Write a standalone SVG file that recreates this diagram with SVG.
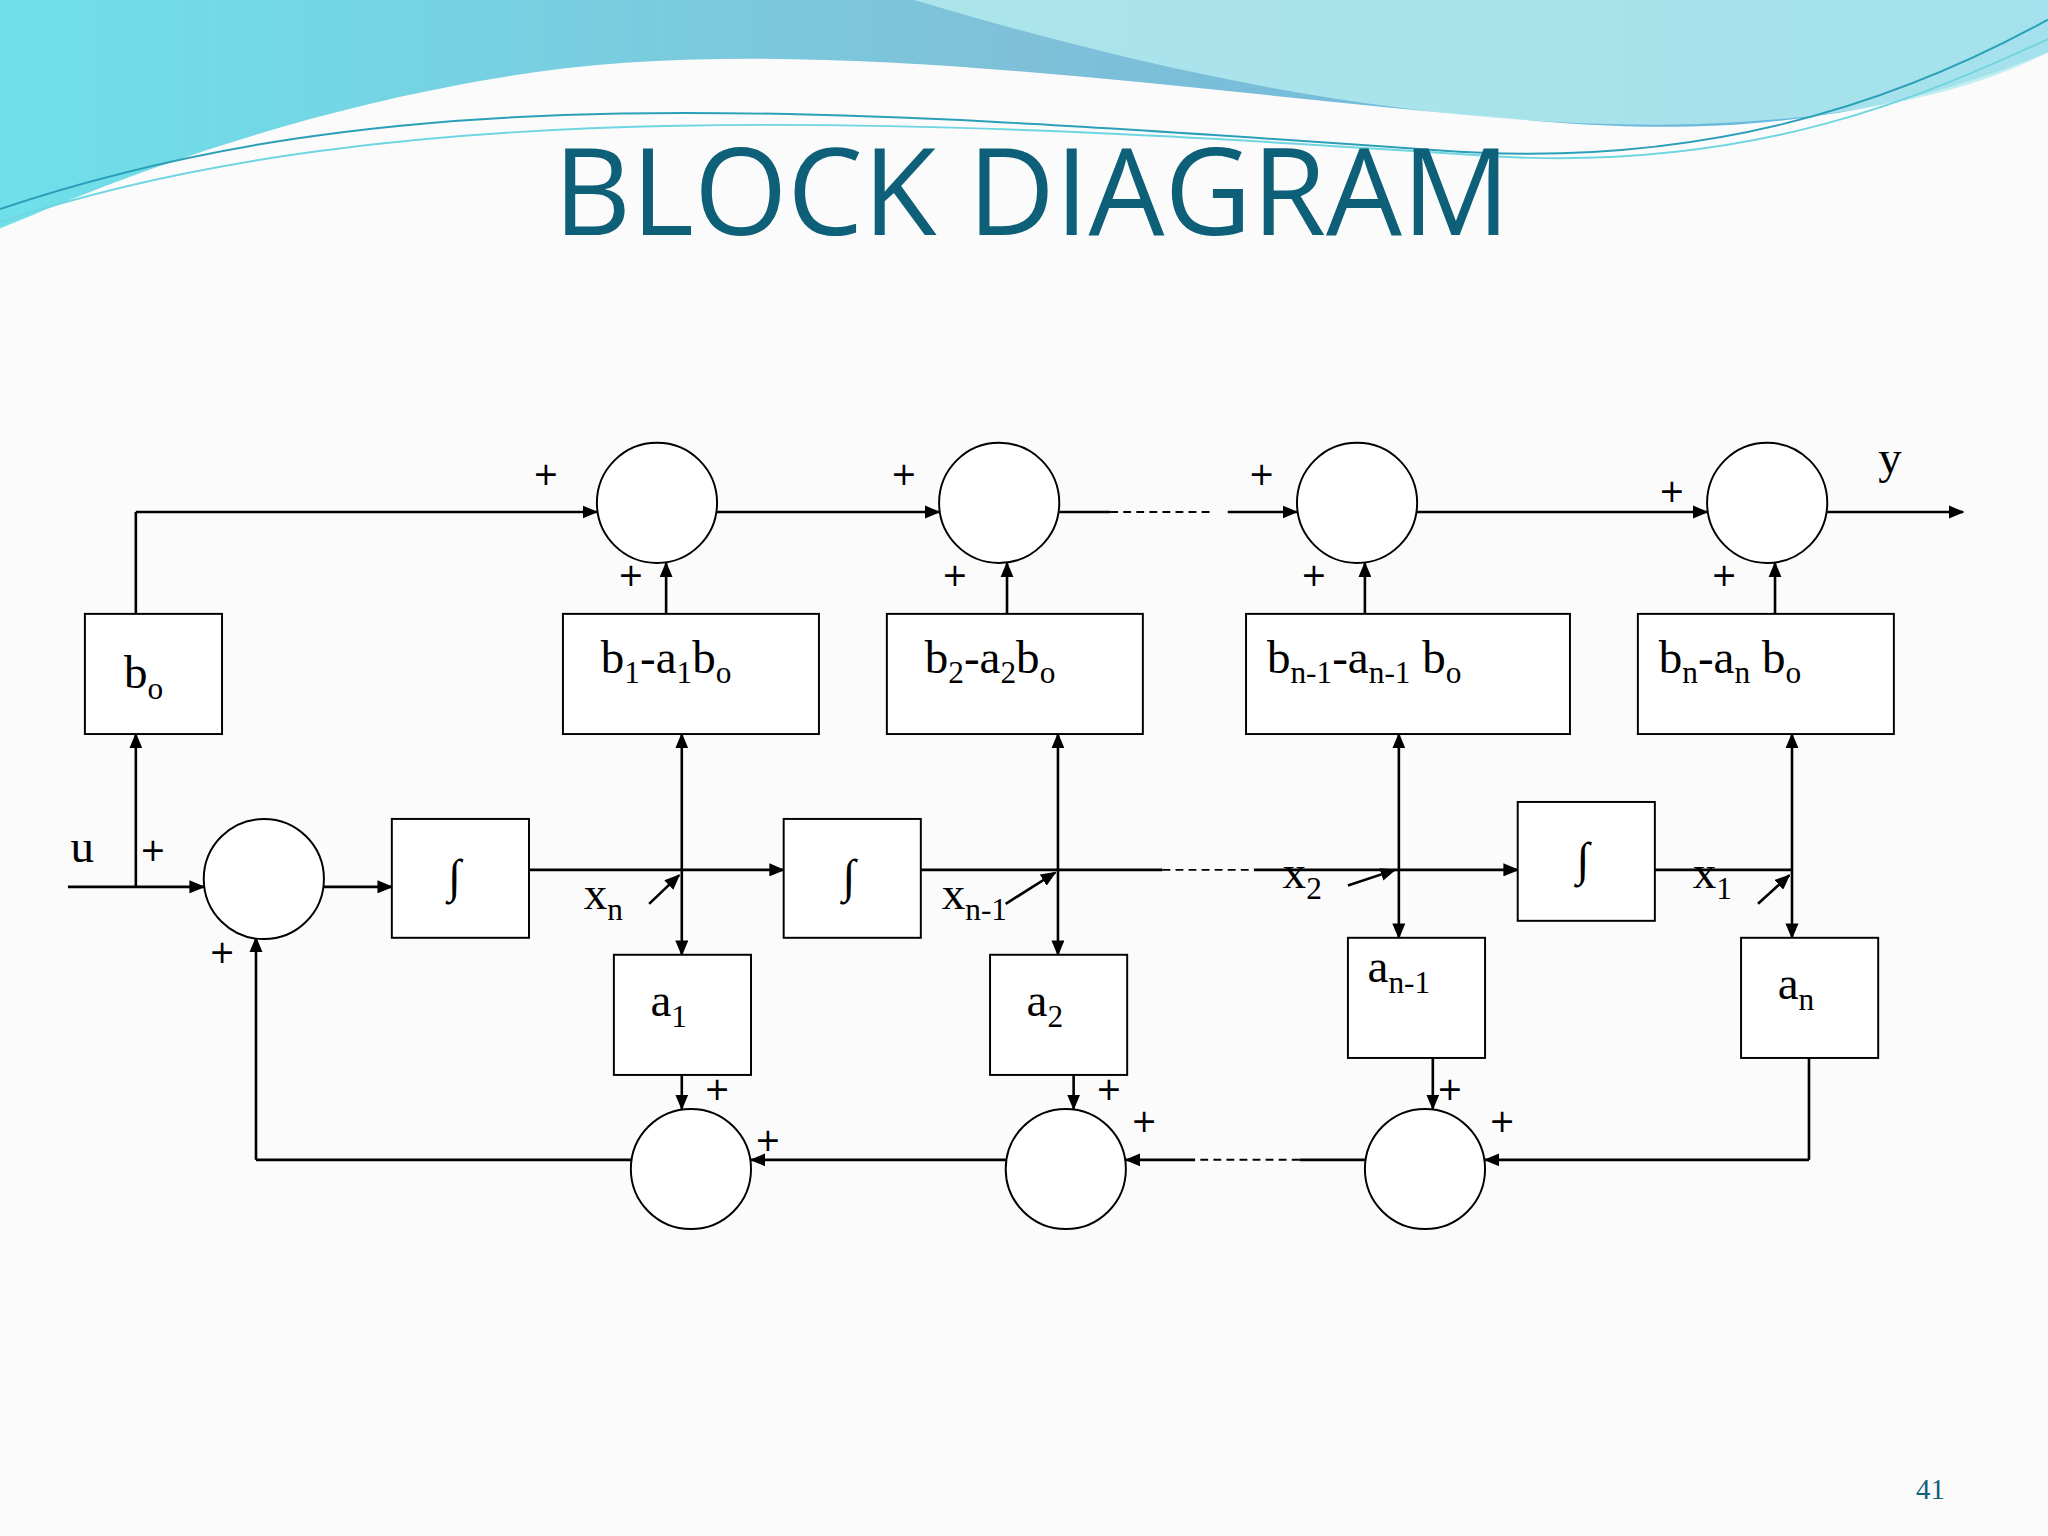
<svg xmlns="http://www.w3.org/2000/svg" width="2048" height="1536" viewBox="0 0 2048 1536">
<defs>
<style>
.l{stroke:#000;stroke-width:2;fill:none}
.a{stroke:#000;stroke-width:2;fill:none;marker-end:url(#ah)}
.d{stroke:#000;stroke-width:2;fill:none;marker-end:url(#ah);marker-start:url(#as)}
.s{stroke:#000;stroke-width:1.5;stroke-dasharray:6,4;fill:none}
.b{stroke:#000;stroke-width:1.5;fill:#fff}
.t{font-family:"Liberation Serif",serif;font-size:36px;fill:#000}
.p{font-family:"DejaVu Sans",sans-serif;font-size:24px;fill:#000}
.sub{font-size:24px}
</style>
<marker id="ah" markerWidth="12" markerHeight="10" refX="11" refY="5" orient="auto" markerUnits="userSpaceOnUse"><path d="M0,0 L12,5 L0,10 z" fill="#000"/></marker>
<marker id="as" markerWidth="12" markerHeight="10" refX="1" refY="5" orient="auto" markerUnits="userSpaceOnUse"><path d="M12,0 L0,5 L12,10 z" fill="#000"/></marker>
<linearGradient id="g1" x1="0" y1="0" x2="1" y2="0"><stop offset="0" stop-color="#6fe0ea"/><stop offset="0.5" stop-color="#7fc0d8"/><stop offset="1" stop-color="#5fb6e0"/></linearGradient>
</defs>
<rect width="2048" height="1536" fill="#fbfbfc"/>
<g transform="scale(1.30612)">
<g id="header">
<path d="M0,0 H1568 V40 C1400,110 1250,100 1150,90 C900,70 600,20 380,60 C200,90 60,150 0,175 Z" fill="url(#g1)"/>
<path d="M700,0 C900,60 1100,100 1300,95 C1450,90 1530,60 1568,40 V0 Z" fill="#b7ecef" opacity="0.8"/>
<path d="M0,160 C300,60 600,80 1100,115 C1300,130 1450,80 1568,15" stroke="#2a9fb8" stroke-width="1.5" fill="none"/>
<path d="M0,170 C300,70 700,90 1150,120 C1350,130 1480,70 1568,30" stroke="#6fd5e0" stroke-width="1.5" fill="none"/>
</g>
<text x="790" y="180" text-anchor="middle" font-family="Open Sans, sans-serif" font-size="92" fill="#0e5f78">BLOCK DIAGRAM</text>
<g id="connectors">
<path class="l" d="M104,470 V392"/><path class="a" d="M104,392 H457"/>
<path class="a" d="M549,392 H719"/>
<path class="l" d="M811,392 H850"/><path class="s" d="M850,392 H930"/><path class="a" d="M940,392 H993"/>
<path class="a" d="M1085,392 H1307"/><path class="a" d="M1399,392 H1503"/>
<path class="a" d="M510,470 V431"/><path class="a" d="M771,470 V431"/><path class="a" d="M1045,470 V431"/><path class="a" d="M1359,470 V431"/>
<path class="a" d="M104,679 V562"/><path class="a" d="M52,679 H156"/><path class="a" d="M248,679 H300"/>
<path class="a" d="M405,666 H600"/><path class="l" d="M705,666 H890"/><path class="s" d="M890,666 H960"/><path class="a" d="M960,666 H1162"/>
<path class="l" d="M1267,666 H1372"/>
<path class="d" d="M522,731 V562"/><path class="d" d="M810,731 V562"/><path class="d" d="M1071,718 V562"/><path class="d" d="M1372,718 V562"/>
<path class="a" d="M522,823 V849"/><path class="a" d="M822,823 V849"/><path class="a" d="M1097,810 V849"/>
<path class="l" d="M1385,810 V888"/><path class="a" d="M1385,888 H1137"/>
<path class="l" d="M1045,888 H995"/><path class="s" d="M995,888 H915"/><path class="a" d="M915,888 H862"/>
<path class="a" d="M770,888 H575"/><path class="l" d="M483,888 H196"/><path class="a" d="M196,888 V718"/>
<path class="a" d="M497,692 L520,670"/><path class="a" d="M770,692 L808,668"/><path class="a" d="M1032,678 L1068,666"/><path class="a" d="M1346,692 L1370,670"/>
</g>
<g id="sums">
<circle class="b" cx="503" cy="385" r="46"/><circle class="b" cx="765" cy="385" r="46"/><circle class="b" cx="1039" cy="385" r="46"/><circle class="b" cx="1353" cy="385" r="46"/>
<circle class="b" cx="202" cy="673" r="46"/>
<circle class="b" cx="529" cy="895" r="46"/><circle class="b" cx="816" cy="895" r="46"/><circle class="b" cx="1091" cy="895" r="46"/>
</g>
<g id="boxes">
<rect class="b" x="65" y="470" width="105" height="92"/><text class="t" x="95" y="527">b<tspan class="sub" dy="8">o</tspan></text>
<rect class="b" x="431" y="470" width="196" height="92"/><text class="t" x="460" y="515">b<tspan class="sub" dy="8">1</tspan><tspan dy="-8">-a</tspan><tspan class="sub" dy="8">1</tspan><tspan dy="-8">b</tspan><tspan class="sub" dy="8">o</tspan></text>
<rect class="b" x="679" y="470" width="196" height="92"/><text class="t" x="708" y="515">b<tspan class="sub" dy="8">2</tspan><tspan dy="-8">-a</tspan><tspan class="sub" dy="8">2</tspan><tspan dy="-8">b</tspan><tspan class="sub" dy="8">o</tspan></text>
<rect class="b" x="954" y="470" width="248" height="92"/><text class="t" x="970" y="515">b<tspan class="sub" dy="8">n-1</tspan><tspan dy="-8">-a</tspan><tspan class="sub" dy="8">n-1</tspan><tspan dy="-8"> b</tspan><tspan class="sub" dy="8">o</tspan></text>
<rect class="b" x="1254" y="470" width="196" height="92"/><text class="t" x="1270" y="515">b<tspan class="sub" dy="8">n</tspan><tspan dy="-8">-a</tspan><tspan class="sub" dy="8">n</tspan><tspan dy="-8"> b</tspan><tspan class="sub" dy="8">o</tspan></text>
<rect class="b" x="300" y="627" width="105" height="91"/><text class="t" x="348" y="683" text-anchor="middle">∫</text>
<rect class="b" x="600" y="627" width="105" height="91"/><text class="t" x="650" y="683" text-anchor="middle">∫</text>
<rect class="b" x="1162" y="614" width="105" height="91"/><text class="t" x="1212" y="670" text-anchor="middle">∫</text>
<rect class="b" x="470" y="731" width="105" height="92"/><text class="t" x="498" y="778">a<tspan class="sub" dy="8">1</tspan></text>
<rect class="b" x="758" y="731" width="105" height="92"/><text class="t" x="786" y="778">a<tspan class="sub" dy="8">2</tspan></text>
<rect class="b" x="1032" y="718" width="105" height="92"/><text class="t" x="1047" y="752">a<tspan class="sub" dy="8">n-1</tspan></text>
<rect class="b" x="1333" y="718" width="105" height="92"/><text class="t" x="1361" y="765">a<tspan class="sub" dy="8">n</tspan></text>
</g>
<g id="labels">
<text class="t" x="1438" y="362">y</text><text class="t" x="54" y="660">u</text>
<text class="t" x="447" y="696">x<tspan class="sub" dy="8">n</tspan></text>
<text class="t" x="721" y="696">x<tspan class="sub" dy="8">n-1</tspan></text>
<text class="t" x="982" y="680">x<tspan class="sub" dy="8">2</tspan></text>
<text class="t" x="1296" y="680">x<tspan class="sub" dy="8">1</tspan></text>
<text class="p" x="418" y="371" text-anchor="middle">+</text><text class="p" x="692" y="371" text-anchor="middle">+</text><text class="p" x="966" y="371" text-anchor="middle">+</text><text class="p" x="1280" y="384" text-anchor="middle">+</text>
<text class="p" x="483" y="449" text-anchor="middle">+</text><text class="p" x="731" y="449" text-anchor="middle">+</text><text class="p" x="1006" y="449" text-anchor="middle">+</text><text class="p" x="1320" y="449" text-anchor="middle">+</text>
<text class="p" x="117" y="659" text-anchor="middle">+</text><text class="p" x="170" y="737" text-anchor="middle">+</text>
<text class="p" x="549" y="842" text-anchor="middle">+</text><text class="p" x="849" y="842" text-anchor="middle">+</text><text class="p" x="588" y="881" text-anchor="middle">+</text><text class="p" x="876" y="867" text-anchor="middle">+</text><text class="p" x="1110" y="842" text-anchor="middle">+</text><text class="p" x="1150" y="867" text-anchor="middle">+</text>
<text x="1478" y="1148" text-anchor="middle" font-family="Liberation Serif, serif" font-size="22" fill="#0e5f78">41</text>
</g>
</g>
</svg>
